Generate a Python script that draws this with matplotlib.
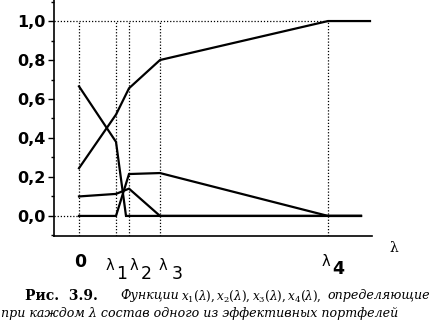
import matplotlib
matplotlib.use("Agg")
import matplotlib.pyplot as plt
from matplotlib.ticker import MultipleLocator, FuncFormatter

plt.rcParams["mathtext.fontset"] = "dejavuserif"

# lambda positions (arbitrary units) of the marked points
lam_marks = [0, 37, 50, 81, 249]
lam_names = ["0", "1", "2", "3", "4"]          # subscripts of lambda (first one is plain "0")

# four portfolio shares x_i(lambda)
xa = [0, 37, 50, 81, 249, 291]
ya = [0.245, 0.52, 0.655, 0.80, 1.0, 1.0]
xb = [0, 37, 47, 282]
yb = [0.665, 0.38, 0.0, 0.0]
xc = [0, 37, 50, 81, 282]
yc = [0.10, 0.113, 0.14, 0.0, 0.0]
xd = [0, 37, 50, 81, 249, 282]
yd = [0.0, 0.0, 0.215, 0.22, 0.0, 0.0]

cap_bold = "Рис.  3.9."
cap1a = "Функции"
cap1b = "$x_1(\\lambda), x_2(\\lambda), x_3(\\lambda), x_4(\\lambda),$"
cap1c = "определяющие"
cap2 = "при каждом λ состав одного из эффективных портфелей"

W, H = 433, 323
fig = plt.figure(figsize=(W / 100, H / 100), dpi=100)
ax = fig.add_axes([54 / W, (H - 236) / H, (372 - 54) / W, 236 / H])
ax.set_xlim(-25, 293)
ax.set_ylim(-0.103, 1.108)

dot = dict(color="black", lw=0.9, ls=(0, (1, 1.5)))
ax.hlines(1.0, -25, lam_marks[-1], **dot)
ax.hlines(0.0, -25, 0, **dot)
ax.vlines(lam_marks, -0.103, 1.0, **dot)

for x, y in [(xa, ya), (xb, yb), (xc, yc), (xd, yd)]:
    ax.plot(x, y, color="black", lw=1.6, solid_joinstyle="miter")

for s in ["top", "right"]:
    ax.spines[s].set_visible(False)
for s in ["left", "bottom"]:
    ax.spines[s].set_linewidth(1.2)

ax.yaxis.set_major_locator(MultipleLocator(0.2))
ax.yaxis.set_minor_locator(MultipleLocator(0.1))
ax.yaxis.set_major_formatter(FuncFormatter(lambda v, p: f"{v:.1f}".replace(".", ",")))
ax.tick_params(axis="y", which="major", length=4, width=1, labelsize=11.5, pad=2)
ax.tick_params(axis="y", which="minor", length=2.5, width=1)
ax.set_xticks([])
for lab in ax.get_yticklabels():
    lab.set_fontweight("bold")

# x labels: "0" and lambda_k with large subscripts (pixel offsets from the marks)
lam_dx = [0, -6, 5, 3, -2]
dig_dx = [1, 6, 17, 17, 10]
lam_dy = [0, -29, -29, -29, -26]
dig_dy = [-26, -38, -38, -38, -33]
for x, n, a, b, c, d in zip(lam_marks, lam_names, lam_dx, dig_dx, lam_dy, dig_dy):
    if n != "0":
        ax.annotate("λ", (x, -0.103), xytext=(a, c), textcoords="offset pixels",
                    ha="center", va="center", fontsize=10.5, annotation_clip=False)
    ax.annotate(n, (x, -0.103), xytext=(b, d), textcoords="offset pixels",
                ha="center", va="center", fontsize=12.5,
                fontweight="bold" if n in "04" else "normal", annotation_clip=False)

fig.text(394 / W, 1 - 248 / H, "λ", ha="center", va="center", fontsize=10,
         family="DejaVu Serif")

# caption: line 2 sets the font size, line 1 pieces placed like in the picture
cap = dict(va="center", fontsize=9, family="DejaVu Serif")
r = fig.canvas.get_renderer()
t2 = fig.text(1 / W, 1 - 313 / H, cap2, ha="left", style="italic", **cap)
fs = 9 * 397 / t2.get_window_extent(r).width
t2.set_fontsize(fs)
cap["fontsize"] = fs
t0 = fig.text(25 / W, 1 - 296 / H, cap_bold, ha="left", fontweight="bold", **cap)
t0.set_fontsize(fs * 1.1)
fig.text(120 / W, 1 - 296 / H, cap1a, ha="left", style="italic", **cap)
tm = fig.text(181 / W, 1 - 296 / H, cap1b, ha="left", **cap)
tm.set_fontsize(fs * 140 / tm.get_window_extent(r).width)
fig.text(430 / W, 1 - 296 / H, cap1c, ha="right", style="italic", **cap)

fig.savefig("out.png", dpi=100)
